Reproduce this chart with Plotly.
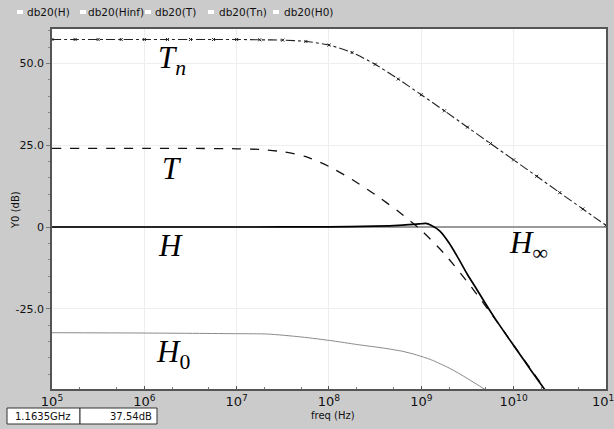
import plotly.graph_objects as go

# ---- data ----
freq_tn = [1e5, 1.78e5, 3.16e5, 5.62e5, 1e6, 1.78e6, 3.16e6, 5.62e6, 1e7, 1.78e7, 3.16e7, 5.62e7,
           1e8, 1.78e8, 3.16e8, 5.62e8, 1e9, 1.78e9, 3.16e9, 5.62e9, 1e10, 1.78e10, 3.16e10, 5.62e10, 1e11]
db_tn = [57.3, 57.3, 57.3, 57.3, 57.3, 57.3, 57.3, 57.3, 57.3, 57.2, 57.1, 56.7,
         55.6, 53.3, 49.7, 45.2, 40.4, 35.5, 30.5, 25.5, 20.5, 15.5, 10.5, 5.5, 0.5]

freq_t = [1e5, 1e6, 3.16e6, 1e7, 1.78e7, 3.16e7, 5.62e7, 1e8, 1.78e8, 3.16e8, 5.62e8,
          1e9, 1.78e9, 3.16e9, 3.98e9, 5.62e9, 1e10, 1.78e10, 2.51e10]
db_t = [24.0, 24.0, 24.0, 23.9, 23.7, 23.0, 21.5, 18.5, 14.5, 9.9, 4.8,
        -1.0, -8.2, -16.8, -20.5, -26.2, -36.1, -46.0, -52.0]

freq_h = [1e5, 1e6, 1e7, 1e8, 3.16e8, 6.3e8, 1e9, 1.12e9, 1.26e9, 1.58e9, 2e9, 2.51e9,
          3.16e9, 3.98e9, 5.01e9, 6.3e9, 1e10, 1.58e10, 2.24e10]
db_h = [0.0, 0.0, 0.0, 0.05, 0.25, 0.6, 1.0, 1.1, 0.6, -1.2, -4.9, -9.5,
        -14.5, -19.0, -23.6, -28.0, -36.2, -44.2, -50.2]

freq_hinf = [1e5, 1e11]
db_hinf = [0.0, 0.0]

freq_h0 = [1e5, 1e6, 1e7, 2.14e7, 5e7, 1.1e8, 2e8, 3.9e8, 6.3e8, 8.9e8, 1.26e9, 2.04e9, 3.16e9, 5e9]
db_h0 = [-32.3, -32.4, -32.6, -32.7, -33.6, -34.8, -35.9, -37.0, -38.0, -39.1, -40.5, -43.2, -46.3, -49.8]

x_tickvals = [1e5, 1e6, 1e7, 1e8, 1e9, 1e10, 1e11]
x_ticktext = ["10<sup>5</sup>", "10<sup>6</sup>", "10<sup>7</sup>", "10<sup>8</sup>",
              "10<sup>9</sup>", "10<sup>10</sup>", "10<sup>11</sup>"]
y_tickvals = [-25, 0, 25, 50]
y_ticktext = ["-25.0", "0", "25.0", "50.0"]

legend_names = ["db20(H)", "db20(Hinf)", "db20(T)", "db20(Tn)", "db20(H0)"]

fig = go.Figure()

fig.add_trace(go.Scatter(x=freq_hinf, y=db_hinf, mode="lines",
                         line=dict(color="#9a9a9a", width=2), name="db20(Hinf)"))
fig.add_trace(go.Scatter(x=freq_h0, y=db_h0, mode="lines",
                         line=dict(color="#8a8a8a", width=1, shape="spline", smoothing=0.7), name="db20(H0)"))
fig.add_trace(go.Scatter(x=freq_tn, y=db_tn, mode="lines+markers",
                         line=dict(color="#222", width=1.1, dash="dashdot", shape="spline", smoothing=0.7),
                         marker=dict(symbol="x-thin-open", size=3, line=dict(width=1, color="#666")),
                         name="db20(Tn)"))
fig.add_trace(go.Scatter(x=freq_t, y=db_t, mode="lines",
                         line=dict(color="#111", width=1.3, dash="dash", shape="spline", smoothing=0.7),
                         name="db20(T)"))
fig.add_trace(go.Scatter(x=freq_h, y=db_h, mode="lines",
                         line=dict(color="#000", width=1.7, shape="spline", smoothing=0.7), name="db20(H)"))

fig.update_layout(
    width=614, height=429,
    paper_bgcolor="#cbcbcb", plot_bgcolor="#ffffff",
    margin=dict(l=52, r=8, t=29, b=40),
    showlegend=False,
    font=dict(family="DejaVu Sans", color="#111"),
)

fig.update_xaxes(
    type="log", range=[5, 11.0005],
    automargin=False,
    tickvals=x_tickvals, ticktext=x_ticktext,
    tickfont=dict(size=13, family="DejaVu Sans"),
    ticklabeloverflow="allow",
    showgrid=True, gridcolor="#eeeeee", gridwidth=1,
    showline=True, linecolor="#555", linewidth=1.5, mirror=True,
    ticks="inside", ticklen=3, tickcolor="#555",
    minor=dict(ticks="inside", ticklen=2, tickcolor="#777", showgrid=False),
    zeroline=False,
)
fig.update_yaxes(
    range=[-49.5, 60.5],
    automargin=False,
    tickvals=y_tickvals, ticktext=y_ticktext,
    tickfont=dict(size=11, family="DejaVu Sans"),
    showgrid=True, gridcolor="#eeeeee", gridwidth=1,
    showline=True, linecolor="#555", linewidth=1.5, mirror=True,
    ticks="outside", ticklen=4, tickcolor="#777",
    minor=dict(dtick=5, ticks="outside", ticklen=2, tickcolor="#888", showgrid=False),
    zeroline=True, zerolinecolor="#9a9a9a", zerolinewidth=1.5,
)

annotations = []
# curve labels
label_font = dict(family="Liberation Serif", size=31, color="#000")
for txt, x, y in [
    ("<i>T</i><sub><i>n</i></sub>", 172, 60),
    ("<i>T</i>", 172, 168),
    ("<i>H</i>", 170, 245),
    ("<i>H</i><sub>∞</sub>", 528, 245),
    ("<i>H</i><sub>0</sub>", 173, 354),
]:
    annotations.append(dict(text=txt, xref="paper", yref="paper",
                            x=(x - 52) / 554, y=(389 - y) / 360,
                            xanchor="center", yanchor="middle", showarrow=False, font=label_font))

# top legend strip
legend_pos = [(17, 25), (80, 86), (145, 153), (208, 217), (273, 282)]
shapes = []
for name, (sx, tx) in zip(legend_names, legend_pos):
    shapes.append(dict(type="rect", xref="paper", yref="paper",
                       x0=(sx - 52) / 554, x1=(sx + 6 - 52) / 554,
                       y0=(389 - 14) / 360, y1=(389 - 10) / 360,
                       fillcolor="#ffffff", line=dict(color="#ffffff", width=0)))
    annotations.append(dict(text=name, xref="paper", yref="paper",
                            x=(tx - 52) / 554, y=(389 - 12) / 360,
                            xanchor="left", yanchor="middle", showarrow=False,
                            font=dict(size=10.5, family="DejaVu Sans", color="#111")))

# axis titles
annotations.append(dict(text="Y0 (dB)", xref="paper", yref="paper",
                        x=(15 - 52) / 554, y=(389 - 210) / 360, textangle=-90,
                        xanchor="center", yanchor="middle", showarrow=False,
                        font=dict(size=10, family="DejaVu Sans", color="#111")))
annotations.append(dict(text="freq (Hz)", xref="paper", yref="paper",
                        x=(333 - 52) / 554, y=(389 - 415) / 360,
                        xanchor="center", yanchor="middle", showarrow=False,
                        font=dict(size=10, family="DejaVu Sans", color="#111")))

# readout boxes bottom-left
for (x0, x1) in [(7, 80), (80, 157)]:
    shapes.append(dict(type="rect", xref="paper", yref="paper",
                       x0=(x0 - 52) / 554, x1=(x1 - 52) / 554,
                       y0=(389 - 424) / 360, y1=(389 - 408) / 360,
                       fillcolor="#ffffff", line=dict(color="#333", width=1)))
annotations.append(dict(text="1.1635GHz", xref="paper", yref="paper",
                        x=(43 - 52) / 554, y=(389 - 416) / 360,
                        xanchor="center", yanchor="middle", showarrow=False,
                        font=dict(size=10, family="DejaVu Sans", color="#111")))
annotations.append(dict(text="37.54dB", xref="paper", yref="paper",
                        x=(154 - 52) / 554, y=(389 - 416) / 360,
                        xanchor="right", yanchor="middle", showarrow=False,
                        font=dict(size=10, family="DejaVu Sans", color="#111")))

fig.update_layout(annotations=annotations, shapes=shapes)

fig.write_html("out.html")
